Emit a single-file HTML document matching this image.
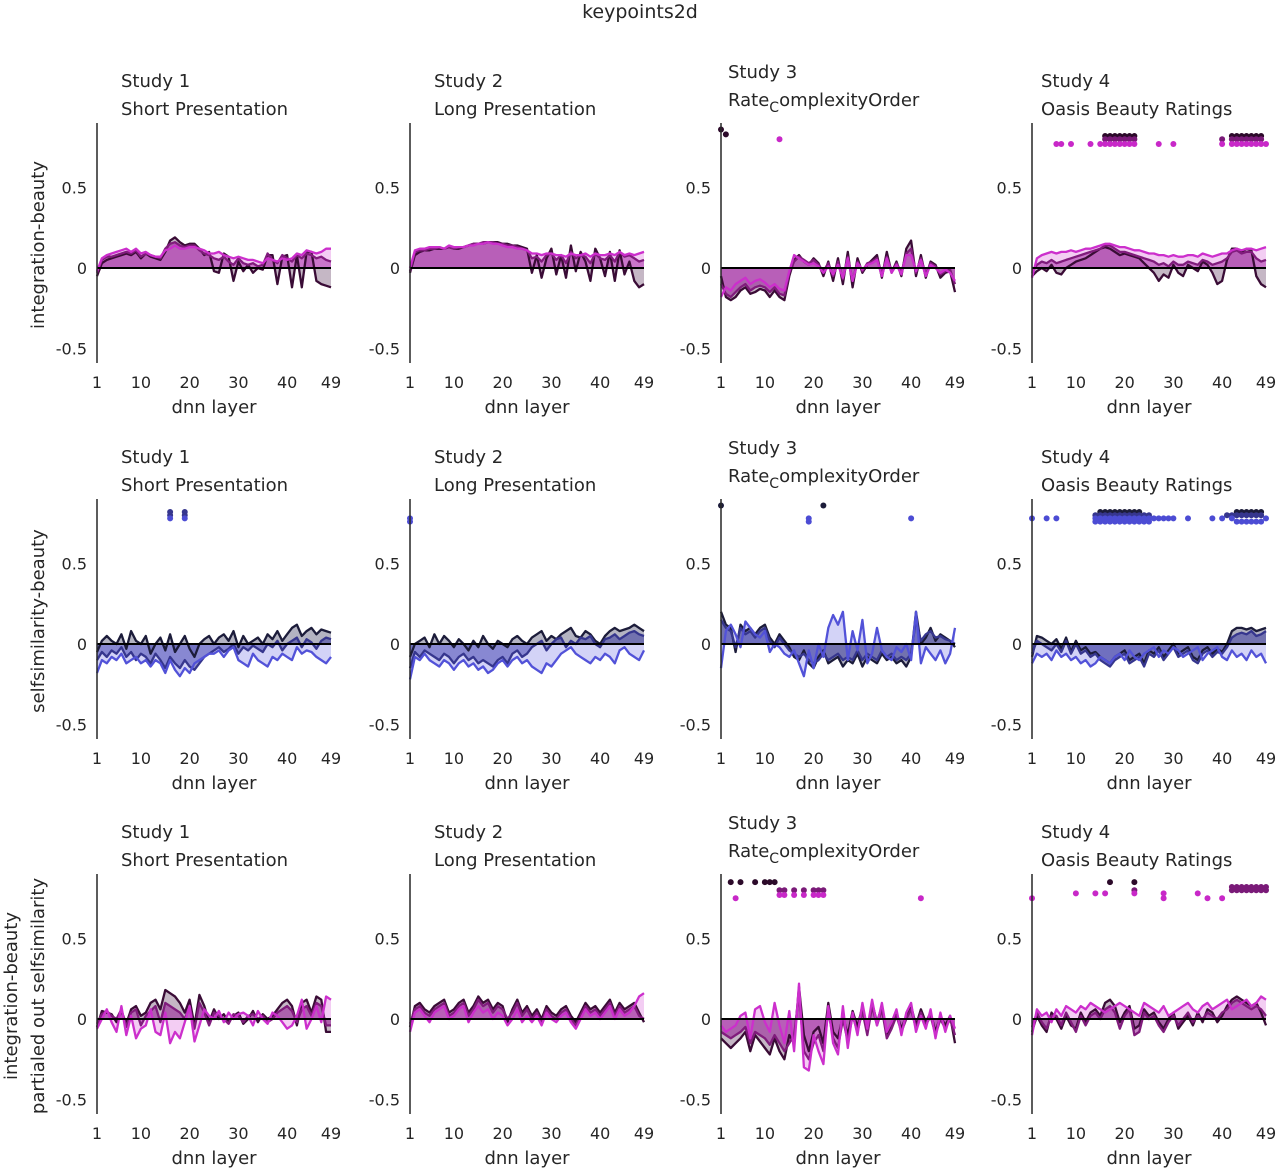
<!DOCTYPE html>
<html><head><meta charset="utf-8"><style>
body{margin:0;background:#fff;}
svg text{font-family:"DejaVu Sans","Liberation Sans",sans-serif;fill:#262626;}
</style></head><body>
<svg id="chart" width="1276" height="1170" xmlns="http://www.w3.org/2000/svg">
<text x="640" y="18" text-anchor="middle" font-size="19">keypoints2d</text>
</svg>
<script>
const layers=[1,10,20,30,40,49];
const yTicks=[0.5,0,-0.5];
const yTickLabels=["0.5","0","-0.5"];
const rowTitles=[["integration-beauty"],["selfsimilarity-beauty"],["integration-beauty","partialed out selfsimilarity"]];
const colTitles=[["Study 1","Short Presentation"],["Study 2","Long Presentation"],["Study 3","RateComplexityOrder"],["Study 4","Oasis Beauty Ratings"]];
// values in hundredths
const r1c1=[[-5,3,5,6,7,8,9,8,10,6,9,7,6,5,10,17,19,16,14,15,15,12,8,10,-2,-3,9,7,-8,4,-2,2,-3,0,-1,8,8,-10,7,8,-12,8,-12,10,10,-8,-10,-11,-12],[-3,5,7,7,8,9,10,9,11,7,9,8,7,6,12,15,16,14,13,14,14,11,9,8,6,5,7,4,2,6,3,2,3,1,2,9,5,3,8,6,4,8,6,9,8,6,7,5,4],[-2,6,8,9,10,11,12,10,12,9,10,8,7,7,11,12,14,12,12,13,13,12,11,9,9,10,8,7,6,7,6,5,5,4,3,6,5,4,6,5,6,9,8,11,10,9,10,12,12]];
const r1c2=[[-3,8,10,11,11,12,12,12,13,12,12,13,14,15,15,15,16,16,16,15,15,14,14,13,12,-3,8,-6,6,12,-4,8,-6,14,-2,10,4,-8,12,6,-5,10,-8,11,-4,4,-8,-12,-10],[-2,10,11,11,12,12,13,12,13,12,13,13,14,15,15,16,16,16,15,15,14,14,13,12,11,6,7,4,8,9,5,8,3,10,6,8,7,3,9,6,5,8,4,10,7,8,6,4,5],[0,11,12,12,13,13,13,12,14,13,13,13,14,14,15,15,16,15,15,14,13,13,12,12,11,9,9,8,9,9,8,8,7,9,8,8,9,7,9,8,8,9,8,10,8,9,8,9,10]];
const r1c3=[[-5,-18,-20,-18,-14,-12,-16,-15,-13,-14,-18,-14,-18,-20,-5,5,8,4,2,6,3,-5,4,-8,6,-10,10,-12,6,-3,2,5,8,-6,10,-3,4,-5,12,17,-5,8,-6,4,2,-6,-3,-2,-15],[-10,-16,-18,-15,-12,-10,-14,-12,-11,-12,-15,-12,-16,-17,-3,4,7,5,3,5,2,-2,3,-5,4,-7,7,-8,4,-2,3,4,6,-4,7,-2,3,-3,9,12,-3,6,-4,3,1,-4,-2,-1,-10],[-18,-12,-14,-10,-8,-6,-10,-8,-7,-9,-12,-10,-13,-14,-2,8,6,4,2,3,1,-3,1,-4,2,-6,6,-8,3,-1,2,3,5,-5,6,-3,2,-4,8,8,-2,5,-5,2,0,-3,-1,-3,-8]];
const r1c4=[[-5,-2,0,-2,2,-3,-4,0,2,4,5,6,8,10,12,13,12,10,8,9,8,7,6,3,0,-3,-8,-4,-6,2,-3,-5,2,0,-2,4,2,-3,-10,-8,5,12,12,10,12,11,-5,-10,-12],[-3,2,4,3,5,3,4,5,6,7,8,9,10,11,12,14,14,12,10,10,9,8,7,6,5,4,2,3,1,4,2,2,4,3,2,5,4,2,3,4,6,10,11,9,10,10,6,4,5],[-6,6,8,9,10,9,10,10,11,10,11,12,12,13,14,15,15,14,13,13,12,11,11,10,9,9,8,8,7,8,7,7,8,8,7,9,8,7,8,9,9,11,12,11,12,12,11,12,13]];
const r2c1=[[-5,2,5,2,0,6,-3,8,2,0,5,-6,0,4,-4,6,-5,0,5,-3,-8,0,3,5,0,4,6,2,8,-2,5,0,2,4,0,6,3,8,2,6,10,12,5,8,10,6,9,8,7],[-10,-5,-8,-4,-6,-2,-8,-5,-10,-6,-8,-12,-6,-10,-15,-8,-12,-15,-10,-14,-16,-12,-8,-6,-4,-2,-5,-3,0,-6,-2,-4,-1,-3,-5,0,-2,2,-4,0,2,4,-2,3,1,-3,2,4,3],[-18,-10,-12,-8,-10,-6,-12,-10,-8,-12,-10,-14,-10,-12,-18,-10,-16,-20,-15,-18,-12,-10,-8,-6,-6,-4,-8,-4,-2,-10,-12,-14,-6,-10,-12,-14,-8,-10,-6,-8,-10,-2,-6,-4,-5,-8,-10,-12,-8]];
const r2c2=[[-8,0,2,4,-2,6,0,5,2,-2,3,0,-4,2,-2,5,0,-3,2,0,-2,3,5,2,0,4,6,8,2,5,3,6,8,10,5,4,8,6,2,0,5,8,10,8,9,10,12,10,8],[-15,-5,-8,-4,-6,-8,-10,-6,-8,-12,-8,-6,-10,-8,-12,-10,-12,-14,-10,-8,-12,-6,-4,-8,-6,-2,0,2,-4,0,3,4,-2,2,0,4,3,5,0,-2,3,4,6,3,5,7,8,6,5],[-22,-8,-10,-6,-10,-12,-14,-10,-12,-16,-12,-10,-14,-12,-16,-14,-18,-16,-12,-10,-14,-10,-8,-12,-10,-14,-16,-18,-12,-14,-10,-6,-4,-2,-6,-8,-10,-12,-8,-10,-6,-8,-12,-4,-2,-6,-8,-10,-4]];
const r2c3=[[20,12,10,-5,12,8,10,6,10,12,4,0,6,2,-2,-8,-10,-4,-12,-15,-8,-4,-12,-10,-8,-14,-10,-12,-6,-14,-8,-10,-12,-6,-10,-8,-12,-10,-14,-8,20,0,4,10,2,6,4,2,-2],[15,10,8,-2,10,6,8,4,8,10,2,-2,4,0,-4,-6,-8,-6,-10,-12,-10,-6,-10,-8,-6,-10,-8,-10,-4,-10,-6,-8,-10,-4,-8,-6,-10,-8,-10,-6,15,2,6,8,4,5,3,2,0],[-15,8,12,6,-2,14,10,6,4,8,-5,0,-2,-6,-8,-4,-12,-20,-4,-15,0,-8,10,18,12,20,-10,8,-4,15,-12,-6,10,-4,-8,-10,-2,-5,0,-10,20,-12,-2,-6,-10,-4,-12,-6,10]];
const r2c4=[[-8,5,4,2,0,3,-3,4,-5,2,-4,-2,-6,-5,-8,-10,-12,-8,-6,-4,-10,-8,-6,-12,-4,-6,-2,-8,-4,0,-6,-4,-2,-8,-10,-4,-2,-6,-3,-5,0,8,10,10,9,10,8,9,10],[-6,2,0,-2,-4,0,-5,2,-6,0,-6,-4,-8,-6,-10,-12,-14,-10,-8,-6,-12,-10,-8,-14,-6,-8,-4,-10,-6,-2,-8,-6,-4,-10,-12,-6,-4,-8,-5,-6,-2,4,6,7,6,8,5,6,8],[-12,-6,-8,-6,-10,-4,-8,-6,-10,-8,-12,-10,-14,-12,-8,-10,-12,-8,-6,-10,-4,-8,-10,-6,-4,-2,-8,-4,-6,-2,-4,-8,-6,-4,-2,-10,-6,-4,-2,-8,-10,-4,-8,-6,-10,-4,-8,-6,-12]];
const r3c1=[[-5,5,4,3,-2,5,-3,6,8,2,4,10,12,6,18,16,14,10,4,12,-4,15,8,-2,6,0,3,-2,2,4,-3,0,5,-2,3,0,2,6,10,12,8,-4,10,12,4,14,12,-8,-8],[-3,3,5,2,0,6,-5,4,6,-4,2,5,8,-2,10,8,6,4,0,8,-6,10,4,-4,4,2,0,-3,3,2,-2,2,3,0,2,-2,0,4,6,8,5,-2,6,8,2,10,8,-4,-4],[-6,0,6,-2,-8,8,-10,2,-12,-6,-4,6,-8,-10,4,-15,-8,-12,-2,8,-14,-4,6,2,0,5,-2,4,0,3,4,2,-4,5,0,-3,4,2,-2,-6,-4,2,12,-6,0,8,-2,14,12]];
const r3c2=[[-5,8,10,6,4,8,10,12,4,6,10,12,4,8,14,10,12,6,10,8,-2,6,12,4,8,2,6,0,8,4,2,6,8,2,-2,4,10,6,8,4,8,12,4,10,6,8,10,4,-2],[-3,6,8,4,2,6,8,10,2,4,8,10,2,6,12,8,10,4,8,6,0,4,10,2,6,0,4,-2,6,2,0,4,6,0,-4,2,8,4,6,2,6,10,2,8,4,6,8,2,0],[-8,4,6,2,-2,4,6,8,0,2,6,8,-2,4,8,4,6,0,4,2,-4,0,6,-2,2,-2,2,-4,4,0,-2,2,4,-2,-6,0,6,2,4,0,4,8,0,6,2,4,8,14,16]];
const r3c3=[[-12,-15,-18,-15,-12,-8,-20,-10,-14,-18,-22,-12,-20,-25,-10,-15,20,-10,-20,-8,-5,-15,10,-8,-12,2,-10,5,-5,8,-8,10,-2,8,-10,-4,4,-6,2,8,-4,6,-2,4,-8,2,-4,2,-15],[-8,-10,-12,-10,-8,-5,-15,-8,-10,-12,-16,-10,-15,-20,-15,-10,15,-20,-25,-15,-10,-20,5,-12,-18,0,-14,2,-8,5,-10,8,-4,6,-12,-6,2,-8,0,6,-6,4,-4,2,-10,0,-6,0,-10],[-4,-8,-6,-4,2,4,-12,6,8,-2,-8,10,-4,-15,5,-20,22,-30,-32,-10,-20,-28,8,-15,-22,8,-18,4,-10,10,-6,12,-4,10,-8,-2,6,-10,4,10,-8,2,-6,6,-12,4,-8,2,-6]];
const r3c4=[[-8,2,-4,-8,4,0,-6,2,-4,-6,4,-2,4,6,2,10,12,8,-2,4,8,-6,-4,6,2,4,-2,-6,0,4,-6,-2,2,-4,4,-2,6,4,-2,2,8,12,14,12,10,8,10,4,-4],[-5,4,-2,-6,2,2,-4,4,-2,-8,2,-4,2,4,0,6,8,4,-6,2,6,-10,-8,4,0,2,-4,-8,-2,2,-4,0,4,-2,2,0,4,2,0,4,6,10,12,10,8,6,8,6,2],[-10,6,2,4,-2,6,2,8,6,4,8,6,10,8,6,4,6,8,10,8,6,4,2,10,8,6,4,8,2,4,6,8,10,6,4,8,10,6,8,10,12,6,8,10,12,8,10,14,12]];
// significance dots: [series index, level(hundredths), layers]
const d1c3=[[0,86,[1]],[0,83,[2]],[2,80,[13]]];
const d1c4=[[0,82,[16,17,18,19,20,21,22,42,43,44,45,46,47,48]],[1,80,[16,17,18,19,20,21,22,40,42,43,44,45,46,47,48]],[2,77,[6,7,9,13,15,16,17,18,19,20,21,22,27,30,40,42,43,44,45,46,47,48,49]]];
const d2c1=[[1,82,[16,19]],[1,80,[16,19]],[2,78,[16,19]]];
const d2c2=[[2,78,[1]],[2,76,[1]]];
const d2c3=[[0,86,[1,22]],[2,78,[19,40]],[2,76,[19]]];
const d2c4=[[0,82,[15,16,17,18,19,20,21,22,23,43,44,45,46,47,48]],[1,80,[14,15,16,17,18,19,20,21,22,23,24,25,41,42,43,44,45,46,47,48]],[2,78,[1,4,6,14,15,16,17,18,19,20,21,22,23,24,25,26,27,28,29,30,33,38,40,42,49]],[2,76,[14,15,16,17,18,19,20,21,22,23,24,25,43,44,45,46,47,48]]];
const d3c3=[[0,85,[3,5,8,10,11,12]],[1,80,[13,14,16,18,20,21,22]],[2,77,[13,14,16,18,20,21,22]],[2,75,[4,42]]];
const d3c4=[[0,85,[17,22]],[1,82,[42,43,44,45,46,47,48,49]],[1,80,[22,42,43,44,45,46,47,48,49]],[2,78,[10,14,16,22,28,35]],[2,75,[1,28,37,40]]];
const data=[[r1c1,r1c2,r1c3,r1c4],[r2c1,r2c2,r2c3,r2c4],[r3c1,r3c2,r3c3,r3c4]];
const dots=[[[],[],d1c3,d1c4],[d2c1,d2c2,d2c3,d2c4],[[],[],d3c3,d3c4]];

const NS="http://www.w3.org/2000/svg";
const svg=document.getElementById('chart');
const X0=[97,410,721,1032],XW=234,Y0=[268,644,1019],YS=161;
const mag={line:['#3a0c36','#801c7c','#cc2fcc'],fill:['rgba(90,50,90,0.35)','rgba(150,30,150,0.55)','rgba(215,90,215,0.3)'],dot:['#2c0a2a','#7a1a78','#c828c8']};
const blu={line:['#1c1c3a','#36368e','#5252d8'],fill:['rgba(40,40,80,0.35)','rgba(60,60,160,0.55)','rgba(110,110,230,0.3)'],dot:['#1c1c3a','#36368e','#4c4cd4']};
function el(t,a,p){const e=document.createElementNS(NS,t);for(const k in a)e.setAttribute(k,a[k]);(p||svg).appendChild(e);return e;}
function txt(s,x,y,size,anchor,p){const e=el('text',{x:x,y:y,'font-size':size,'text-anchor':anchor},p);e.textContent=s;return e;}
for(let r=0;r<3;r++){
  const pal=r===1?blu:mag;
  const g0=el('g',{});
  
  
  const lines=rowTitles[r];
  lines.forEach((s,i)=>{const cx=lines.length===1?44:(i===0?17:44);const cy=Y0[r]-23;
    const t=txt(s,cx,cy,18,'middle',g0);t.setAttribute('transform','rotate(-90 '+cx+' '+cy+')');});
  for(let c=0;c<4;c++){
    const x0=X0[c],y0=Y0[r];
    const xs=L=>x0+(L-1)/48*XW, ys=v=>y0-v/100*YS;
    const g=el('g',{});
    
    
    const tg=el('g',{},g);
    
    
    const tx=[121,434,728,1041][c], ty=y0-181+(c===2?-9:0);
    txt(colTitles[c][0],tx,ty,18,'start',tg);
    if(c===2){const t=el('text',{x:tx,y:ty+28,'font-size':18},tg);t.innerHTML='Rate<tspan font-size="14" dy="6">C</tspan><tspan dy="-6">omplexityOrder</tspan>';}
    else txt(colTitles[c][1],tx,ty+28,18,'start',tg);
    const ser=data[r][c];
    ser.forEach((vals,si)=>{
      let d='M'+xs(1)+','+ys(0);
      vals.forEach((v,i)=>d+='L'+xs(i+1).toFixed(1)+','+ys(v).toFixed(1));
      d+='L'+xs(49)+','+ys(0)+'Z';
      const a=el('path',{d:d,fill:pal.fill[si],stroke:'none'},g);
      
      
    });
    ser.forEach((vals,si)=>{
      const pts=vals.map((v,i)=>xs(i+1).toFixed(1)+','+ys(v).toFixed(1)).join(' ');
      const l=el('polyline',{points:pts,fill:'none',stroke:pal.line[si],'stroke-width':2.3,'stroke-linejoin':'round'},g);
      
      
    });
    const z=el('line',{x1:x0,x2:x0+XW,y1:y0,y2:y0,stroke:'#000','stroke-width':2},g);
    
    
    dots[r][c].forEach(([si,lev,ls])=>ls.forEach(L=>{
      const dt=el('circle',{cx:xs(L),cy:ys(lev),r:3,fill:pal.dot[si]},g);
      
      
    }));
    const ax=el('line',{x1:x0,x2:x0,y1:y0-145,y2:y0+95,stroke:'#262626','stroke-width':1.5},g);
    
    
    yTicks.forEach((v,i)=>{
      const t=txt(yTickLabels[i],x0-10,ys(v*100)+6,16,'end',g);
      
      
    });
    layers.forEach(L=>{
      const t=txt(String(L),xs(L),y0+120,16,'middle',g);
      
      
    });
    const xt=txt('dnn layer',x0+XW/2,y0+145,18,'middle',g);
    
    
  }
}
</script>
</body></html>
